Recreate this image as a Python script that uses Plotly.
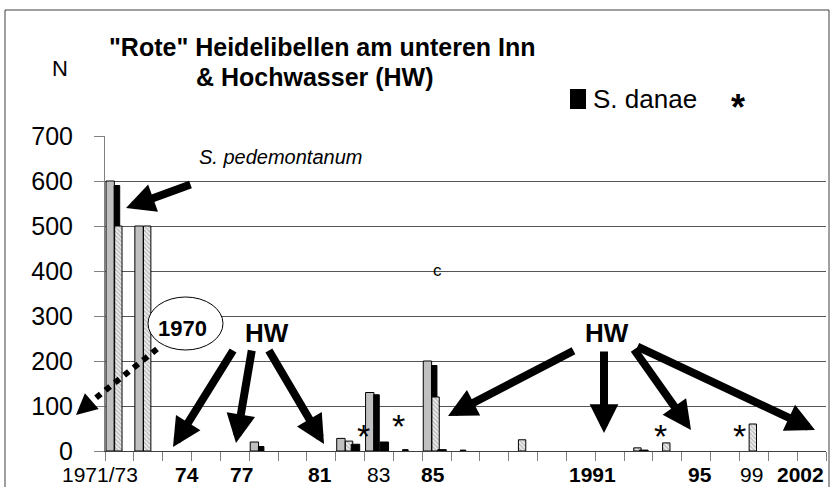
import plotly.graph_objects as go

# 25 category slots along the x axis (mixed years, labelled by hand in the original)
slots = list(range(25))

# N per slot (None = no bar)
grey_n = [600, 500, None, None, None, 20, None, None, 28, 130, None, 200, None,
          None, None, None, None, None, None, None, None, None, None, None, None]
danae_n = [590, None, None, None, None, 10, None, None, None, 125, 3, 190, 2,
           None, None, None, None, None, None, None, None, None, None, None, None]
pedemont_n = [500, 500, None, None, None, None, None, None, 22, None, None, 120, None,
              None, 25, None, None, None, 7, 18, None, None, 60, None, None]
black2_n = [None, None, None, None, None, None, None, None, 15, 20, None, 3, None,
            None, None, None, None, None, 2, None, None, None, None, None, None]

# x labels and where they sit (slot units)
x_labels = ["1971/73", "<b>74</b>", "<b>77</b>", "<b>81</b>", "83", "<b>85</b>",
            "<b>1991</b>", "<b>95</b>", "99", "<b>2002</b>"]
x_label_pos = [-0.67, 2.34, 4.22, 6.95, 8.97, 10.87, 16.42, 20.13, 21.93, 23.6]

FONT = "Liberation Sans, Arial, sans-serif"

# plot area in pixels, used to place the hand-drawn decorations
L, R, T, B = 105, 826, 136, 451


def px(x):
    return (x - L) / (R - L)


def py(y):
    return (B - y) / (B - T)


fig = go.Figure()

fig.add_trace(go.Bar(x=slots, y=grey_n, offset=-0.465, width=0.29,
                     marker=dict(color="#c0c0c0", line=dict(color="black", width=1)),
                     hoverinfo="skip"))
fig.add_trace(go.Bar(x=slots, y=danae_n, offset=-0.18, width=0.19,
                     marker=dict(color="black", line=dict(color="black", width=1)),
                     hoverinfo="skip"))
fig.add_trace(go.Bar(x=slots, y=pedemont_n, offset=-0.165, width=0.255,
                     marker=dict(color="#ececec",
                                 pattern=dict(shape="\\", fgcolor="#707070", bgcolor="#ececec",
                                              size=3, solidity=0.35),
                                 line=dict(color="black", width=1)),
                     hoverinfo="skip"))
fig.add_trace(go.Bar(x=slots, y=black2_n, offset=0.037, width=0.295,
                     marker=dict(color="black", line=dict(color="black", width=1)),
                     hoverinfo="skip"))

annotations = []


def label(text, x, y, size, bold=False, italic=False, xanchor="center"):
    if bold:
        text = "<b>" + text + "</b>"
    if italic:
        text = "<i>" + text + "</i>"
    annotations.append(dict(text=text, x=px(x), y=py(y), xref="paper", yref="paper",
                            showarrow=False, xanchor=xanchor, yanchor="middle",
                            font=dict(family=FONT, size=size, color="black")))


# x-axis labels, placed by hand like in the original (slot -> paper, first one sits left of the axis)
for lab, pos in zip(x_labels, x_label_pos):
    annotations.append(dict(text=lab, x=(pos + 0.5) / len(slots), y=py(474), xref="paper",
                            yref="paper", showarrow=False, xanchor="center", yanchor="middle",
                            font=dict(family=FONT, size=21, color="black")))

label('"Rote" Heidelibellen am unteren Inn', 322, 47, 25, bold=True)
label("& Hochwasser (HW)", 315, 77, 25, bold=True)
label("N", 60, 68, 22)
label("S. pedemontanum", 280, 157, 20, italic=True)
label("c", 437, 270, 17)
label("HW", 267, 333, 26, bold=True)
label("HW", 607, 333, 26, bold=True)
for ax_, ay_ in [(363, 436), (398, 426), (660, 436), (739, 436)]:
    label("*", ax_, ay_, 34)
# hand-made legend
label("S. danae", 591, 99, 26, xanchor="left")
label("*", 738, 107, 36, bold=True)

# thick black arrows: (tail, tip) in pixels
arrows = [((192, 184), (126, 208)),
          ((234, 349), (173, 447)), ((252, 349), (236, 443)), ((268, 349), (324, 444)),
          ((575, 350), (448, 416)), ((604, 350), (604, 433)),
          ((633, 348), (691, 430)), ((636, 346), (815, 430))]
for (tx, ty), (hx, hy) in arrows:
    annotations.append(dict(text="", x=px(hx), y=py(hy), xref="paper", yref="paper",
                            ax=tx - hx, ay=ty - hy, showarrow=True, arrowhead=2,
                            arrowwidth=8, arrowsize=0.72, arrowcolor="black"))

# head of the dotted "1970" arrow
annotations.append(dict(text="", x=px(76), y=py(415), xref="paper", yref="paper",
                        ax=16, ay=-14, showarrow=True, arrowhead=2,
                        arrowwidth=3, arrowsize=1.4, arrowcolor="black"))

shapes = [
    # outer frame of the chart object
    dict(type="rect", xref="paper", yref="paper", x0=px(5), x1=px(829), y0=py(495), y1=py(10),
         line=dict(color="#404040", width=1)),
    # the "1970" bubble
    dict(type="circle", xref="paper", yref="paper", x0=px(148), x1=px(223), y0=py(350), y1=py(297),
         fillcolor="white", line=dict(color="black", width=1)),
    dict(type="line", xref="paper", yref="paper", x0=px(157), y0=py(349), x1=px(92), y1=py(401),
         line=dict(color="black", width=6, dash="dot")),
    # legend swatch
    dict(type="rect", xref="paper", yref="paper", x0=px(570), x1=px(586), y0=py(109), y1=py(89),
         fillcolor="black", line=dict(color="black", width=0)),
]
label("1970", 182, 328, 22, bold=True)

fig.update_layout(
    width=833, height=487,
    margin=dict(l=L, r=833 - R, t=T, b=487 - B),
    paper_bgcolor="white", plot_bgcolor="white",
    barmode="overlay", showlegend=False,
    font=dict(family=FONT, size=22, color="black"),
    annotations=annotations, shapes=shapes,
)
fig.update_xaxes(range=[-0.5, 24.5], showticklabels=False, ticks="", automargin=False,
                 showgrid=False, showline=True, linecolor="#404040", linewidth=1, zeroline=False,
                 minor=dict(tickmode="linear", tick0=-0.5, dtick=1, ticks="outside",
                            ticklen=9, tickcolor="#808080", showgrid=False))
fig.update_yaxes(range=[0, 700], dtick=100, ticks="outside", ticklen=10, tickcolor="#808080",
                 automargin=False, showgrid=True, gridcolor="#555555", gridwidth=1,
                 zeroline=False, showline=True, linecolor="#808080", ticklabelstandoff=16,
                 tickfont=dict(family=FONT, size=25, color="black"))

# the page body has a default 8px margin; drop it so the figure fills the window
fig.write_html("out.html", config={"displayModeBar": False},
               post_script="document.body.style.margin='0';")
